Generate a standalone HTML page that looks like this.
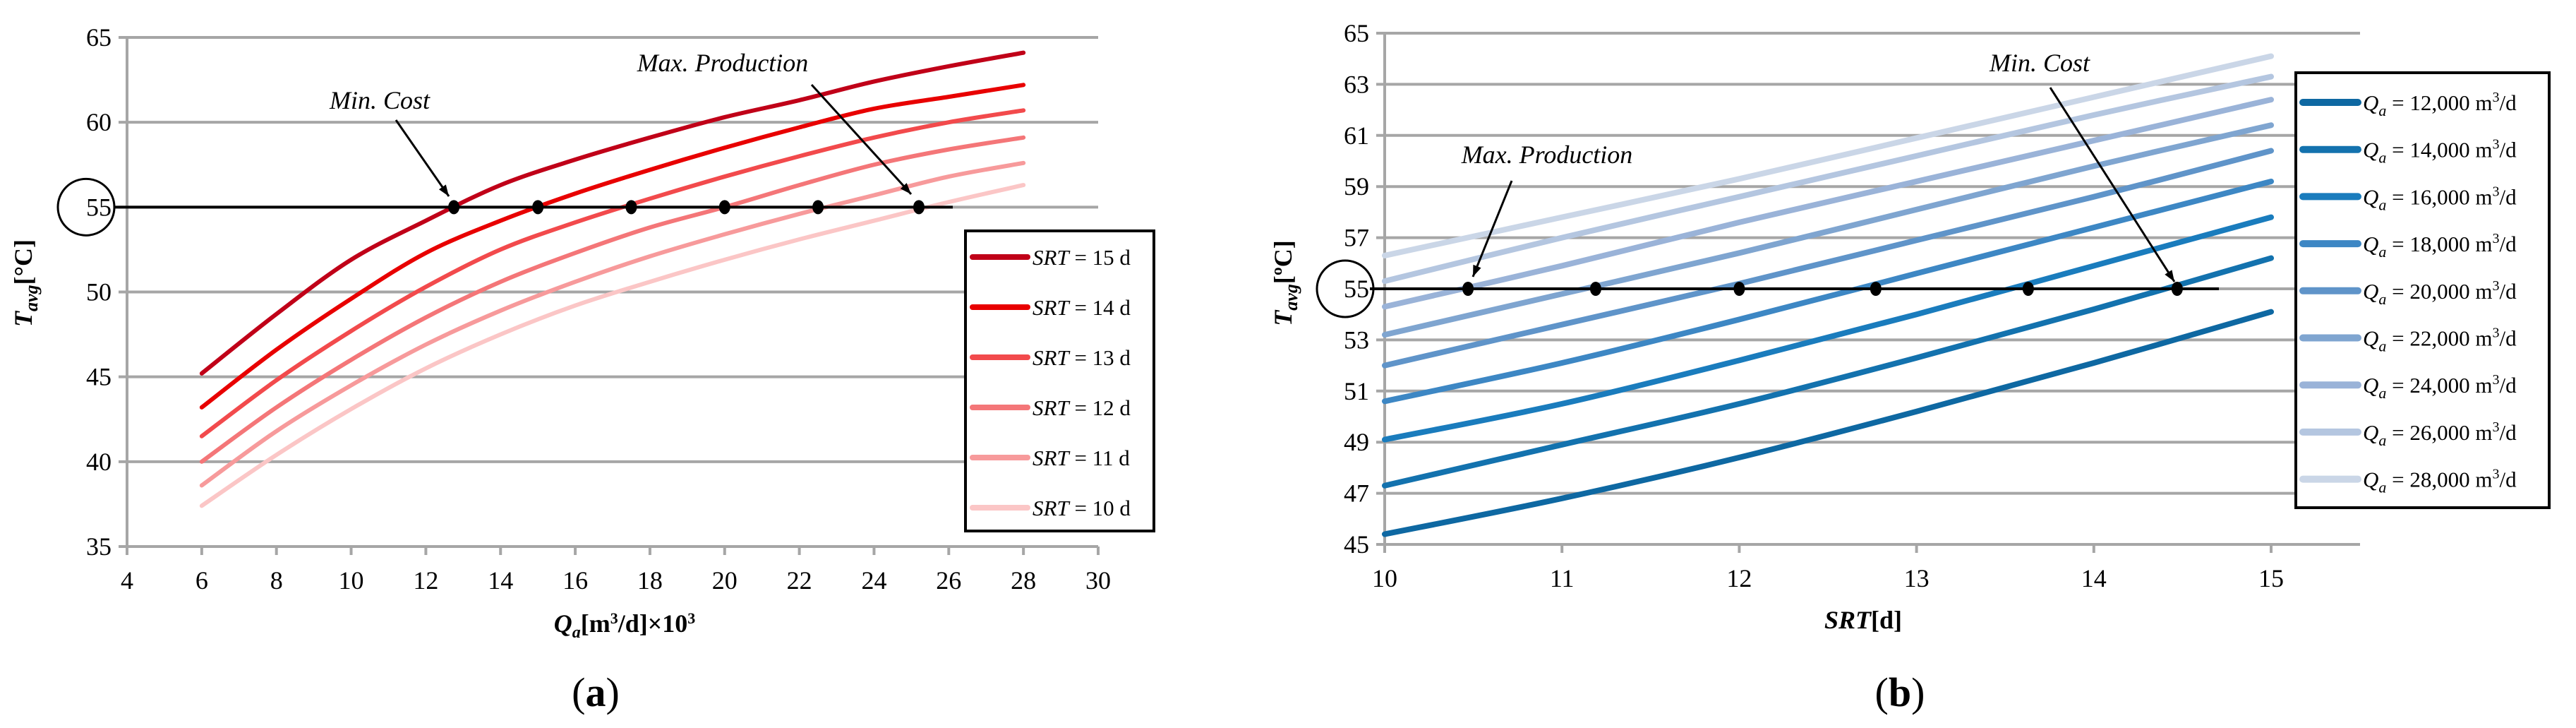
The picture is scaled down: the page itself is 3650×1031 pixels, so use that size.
<!DOCTYPE html>
<html><head><meta charset="utf-8">
<style>
html,body{margin:0;padding:0;background:#fff;}
svg{display:block;font-family:"Liberation Serif",serif;}
</style></head>
<body>
<svg id="s" width="3650" height="1031" viewBox="0 0 3650 1031" xmlns="http://www.w3.org/2000/svg"></svg>
<script>
// ---- chart (a) data ----
const aX = [6,8,10,12,14,16,18,20,22,24,26,28];
const aSRT = [15,14,13,12,11,10];
const a15 = [45.2,48.7,51.9,54.2,56.3,57.8,59.1,60.3,61.3,62.4,63.3,64.1];
const a14 = [43.2,46.6,49.6,52.3,54.2,55.8,57.2,58.5,59.7,60.8,61.5,62.2];
const a13 = [41.5,44.8,47.7,50.3,52.5,54.1,55.5,56.8,58.0,59.1,60.0,60.7];
const a12 = [40.0,43.2,46.0,48.5,50.6,52.3,53.8,55.0,56.3,57.5,58.4,59.1];
const a11 = [38.6,41.8,44.5,46.9,48.9,50.6,52.1,53.4,54.6,55.7,56.8,57.6];
const a10 = [37.4,40.4,43.1,45.5,47.5,49.2,50.6,51.9,53.1,54.2,55.3,56.3];
const aXTicks = [4,6,8,10,12,14,16,18,20,22,24,26,28,30];
const aYTicks = [35,40,45,50,55,60,65];
const aDots = [12.75,15,17.5,20,22.5,25.2];
// ---- chart (b) data ----
const bX = [10,11,12,13,14,15];
const bQ = [12,14,16,18,20,22,24,26,28];
const b12 = [45.4,46.8,48.4,50.2,52.1,54.1];
const b14 = [47.3,48.9,50.5,52.3,54.2,56.2];
const b16 = [49.1,50.5,52.2,54.0,55.9,57.8];
const b18 = [50.6,52.1,53.8,55.6,57.4,59.2];
const b20 = [52.0,53.6,55.2,56.9,58.6,60.4];
const b22 = [53.2,54.8,56.4,58.1,59.8,61.4];
const b24 = [54.3,55.9,57.6,59.2,60.8,62.4];
const b26 = [55.3,57.0,58.6,60.2,61.8,63.3];
const b28 = [56.3,57.8,59.3,60.9,62.5,64.1];
const bXTicks = [10,11,12,13,14,15];
const bYTicks = [45,47,49,51,53,55,57,59,61,63,65];
const bDots = [10.47,11.19,12.0,12.77,13.63,14.47];

const NS="http://www.w3.org/2000/svg";
const svg=document.getElementById('s');
function el(tag,attrs,parent){const e=document.createElementNS(NS,tag);for(const k in attrs)e.setAttribute(k,attrs[k]);(parent||svg).appendChild(e);return e;}
function smooth(pts){let d=`M${pts[0][0]},${pts[0][1]}`;for(let i=0;i<pts.length-1;i++){const p0=pts[Math.max(0,i-1)],p1=pts[i],p2=pts[i+1],p3=pts[Math.min(pts.length-1,i+2)];d+=` C${p1[0]+(p2[0]-p0[0])/6},${p1[1]+(p2[1]-p0[1])/6} ${p2[0]-(p3[0]-p1[0])/6},${p2[1]-(p3[1]-p1[1])/6} ${p2[0]},${p2[1]}`;}return d;}

function chart(cfg){
  const g=el('g',{});
  
  
  const X=v=>cfg.x0+(v-cfg.xmin)/(cfg.xmax-cfg.xmin)*(cfg.x1-cfg.x0);
  const Y=v=>cfg.y0+(v-cfg.ymin)/(cfg.ymax-cfg.ymin)*(cfg.y1-cfg.y0);
  // gridlines
  cfg.yTicks.forEach(t=>{
    const l=el('line',{x1:cfg.x0-12,x2:cfg.gridEnd,y1:Y(t),y2:Y(t),stroke:'#a6a6a6','stroke-width':4},g);
    
    const tx=el('text',{x:cfg.x0-22,y:Y(t)+12,'text-anchor':'end','font-size':36,fill:'#000'},g);
    tx.textContent=t;
  });
  const ax=el('line',{x1:cfg.x0,x2:cfg.x0,y1:cfg.y1,y2:Y(cfg.ymin)+12,stroke:'#a6a6a6','stroke-width':4},g);
  
  cfg.xTicks.forEach(t=>{
    const l=el('line',{x1:X(t),x2:X(t),y1:Y(cfg.ymin),y2:Y(cfg.ymin)+12,stroke:'#a6a6a6','stroke-width':4},g);
    
    const tx=el('text',{x:X(t),y:Y(cfg.ymin)+60,'text-anchor':'middle','font-size':36},g);
    tx.textContent=t;
  });
  // series
  cfg.series.forEach((s,i)=>{
    const p=el('path',{d:smooth(cfg.xs.map((x,j)=>[X(x),Y(s[j])])),fill:'none',stroke:cfg.colors[i],'stroke-width':cfg.lw,'stroke-linecap':'round'},g);
    
    
  });
  // 55 line & dots
  const hl=el('line',{x1:cfg.hl0,x2:cfg.hl1,y1:Y(55),y2:Y(55),stroke:'#000','stroke-width':4},g);
  
  cfg.dots.forEach(d=>{const c=el('ellipse',{cx:X(d),cy:Y(55),rx:8,ry:10,fill:'#000'},g);
    });
  const ci=el('ellipse',{cx:cfg.cx,cy:Y(55),rx:40,ry:40,fill:'none',stroke:'#000','stroke-width':3},g);
  
  // legend
  const lg=el('g',{},g);
  el('rect',{x:cfg.lx,y:cfg.ly,width:cfg.lw2,height:cfg.lh,fill:'#fff',stroke:'#000','stroke-width':4},lg);
  cfg.labels.forEach((lab,i)=>{
    const yy=cfg.ly0+i*cfg.lstep;
    const e=el('g',{},lg);
    el('line',{x1:cfg.lx+10,x2:cfg.lx+88,y1:yy,y2:yy,stroke:cfg.colors[i],'stroke-width':cfg.lw+2,'stroke-linecap':'round'},e);
    const t=el('text',{x:cfg.lx+95,y:yy+11,'font-size':31},e);t.innerHTML=lab;
  });
  return {X,Y,g};
}

const A=chart({name:'chart-a',x0:180,x1:1556,xmin:4,xmax:30,y0:774,y1:53,ymin:35,ymax:65,gridEnd:1556,
  xTicks:aXTicks,yTicks:aYTicks,xs:aX,series:[a15,a14,a13,a12,a11,a10],
  colors:['#c00018','#e80000','#f24a4c','#f47678','#f79a9b','#fbc6c6'],lw:6,
  labels:aSRT.map(s=>`<tspan font-style="italic">SRT</tspan> = ${s} d`),
  hl0:163,hl1:1350,dots:aDots,cx:122,lx:1368,ly:327,lw2:267,lh:425,ly0:364,lstep:71});
const B=chart({name:'chart-b',x0:1962,x1:3218,xmin:10,xmax:15,y0:771,y1:47,ymin:45,ymax:65,gridEnd:3344,
  xTicks:bXTicks,yTicks:bYTicks,xs:bX,series:[b12,b14,b16,b18,b20,b22,b24,b26,b28],
  colors:['#0e68a2','#1372ae','#1a7cbd','#3d87c4','#5f94c9','#7fa5d0','#9ab3d8','#b4c6e0','#cad6e7'],lw:8,
  labels:bQ.map(q=>`<tspan font-style="italic">Q</tspan><tspan font-style="italic" font-size="22" dy="8">a</tspan><tspan dy="-8"> = ${q},000 m</tspan><tspan font-size="20" dy="-12">3</tspan><tspan dy="12">/d</tspan>`),
  hl0:1941,hl1:3144,dots:bDots,cx:1906,lx:3253,ly:103,lw2:359,lh:616,ly0:145,lstep:66.7});

function txt(x,y,html,size,name,extra){const t=el('text',Object.assign({x,y,'font-size':size,'text-anchor':'middle'},extra||{}));t.innerHTML=html;return t;}
function arrow(x1,y1,x2,y2,name){const g=el('g',{});
  el('line',{x1,y1,x2,y2,stroke:'#000','stroke-width':3},g);
  const a=Math.atan2(y2-y1,x2-x1),L=16,W=6;
  el('polygon',{points:`${x2},${y2} ${x2-L*Math.cos(a)+W*Math.sin(a)},${y2-L*Math.sin(a)-W*Math.cos(a)} ${x2-L*Math.cos(a)-W*Math.sin(a)},${y2-L*Math.sin(a)+W*Math.cos(a)}`,fill:'#000'},g);}

// annotations (a)
txt(538,154,'Min. Cost',36,'min-cost-label-a',{'font-style':'italic'});
arrow(561,170,636,278,'min-cost-arrow-a');
txt(1024,101,'Max. Production',36,'max-production-label-a',{'font-style':'italic'});
arrow(1150,120,1291,275,'max-production-arrow-a');
txt(45,401,'<tspan font-style="italic">T</tspan><tspan font-style="italic" font-size="26" dy="8">avg</tspan><tspan dy="-8">[°C]</tspan>',36,'y-axis-title-a',{'font-weight':'bold',transform:'rotate(-90 45 401)'});
txt(885,895,'<tspan font-style="italic">Q</tspan><tspan font-style="italic" font-size="24" dy="8">a</tspan><tspan dy="-8">[m</tspan><tspan font-size="22" dy="-12">3</tspan><tspan dy="12">/d]×10</tspan><tspan font-size="22" dy="-12">3</tspan>',36,'x-axis-title-a',{'font-weight':'bold'});
txt(844,1000,'(<tspan font-weight="bold">a</tspan>)',58,'panel-label-a');
// annotations (b)
txt(2890,101,'Min. Cost',36,'min-cost-label-b',{'font-style':'italic'});
arrow(2905,124,3081,399,'min-cost-arrow-b');
txt(2192,231,'Max. Production',36,'max-production-label-b',{'font-style':'italic'});
arrow(2142,256,2087,392,'max-production-arrow-b');
txt(1830,401,'<tspan font-style="italic">T</tspan><tspan font-style="italic" font-size="26" dy="8">avg</tspan><tspan dy="-8">[ºC]</tspan>',36,'y-axis-title-b',{'font-weight':'bold',transform:'rotate(-90 1830 401)'});
txt(2640,890,'<tspan font-style="italic">SRT</tspan>[d]',36,'x-axis-title-b',{'font-weight':'bold'});
txt(2692,1000,'(<tspan font-weight="bold">b</tspan>)',58,'panel-label-b');
</script>
</body></html>
